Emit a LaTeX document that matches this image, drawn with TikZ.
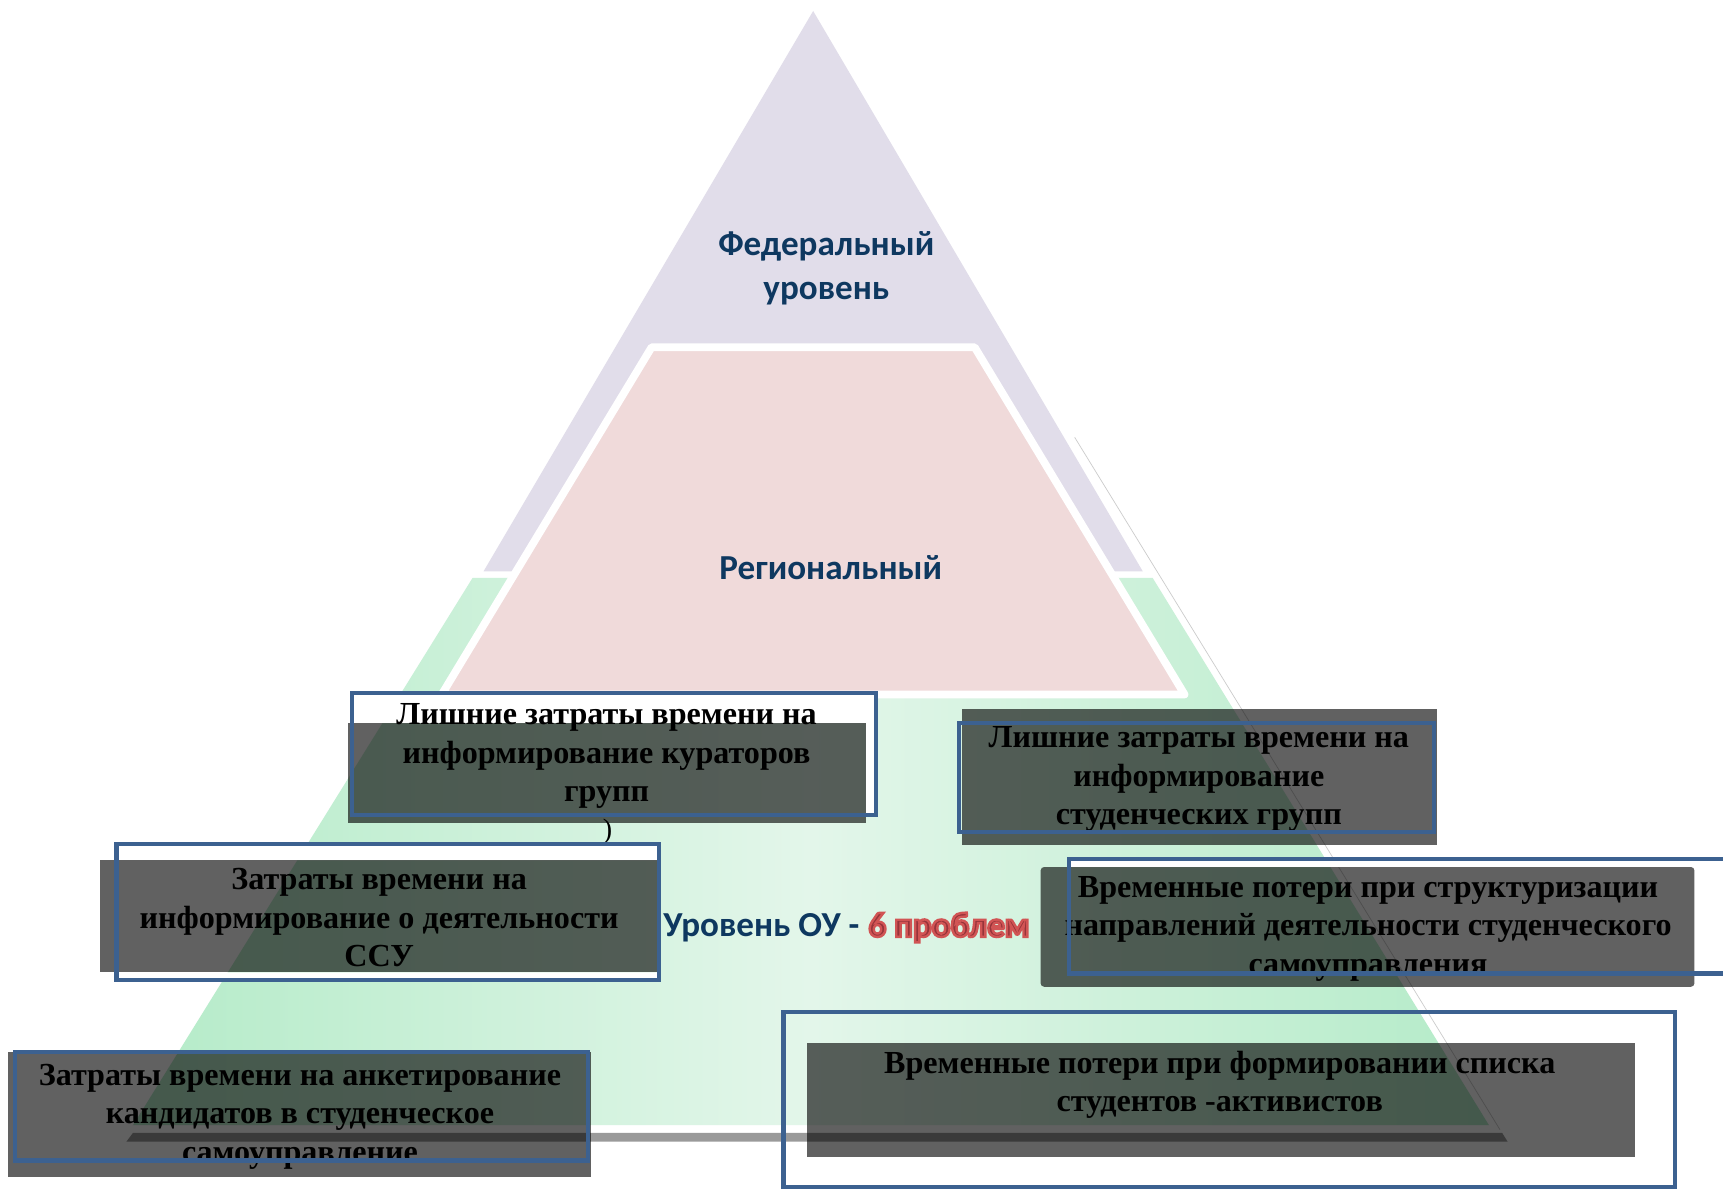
\documentclass[tikz,border=0pt]{standalone}
\usepackage{fontspec}
\setmainfont{Liberation Serif}
\newfontfamily\calib{Carlito}
\usetikzlibrary{calc}
\definecolor{purplefill}{HTML}{E1DDEA}
\definecolor{pinkfill}{HTML}{F0DADA}
\definecolor{greenedge}{HTML}{B4EBC8}
\definecolor{greenmid}{HTML}{E3F6EA}
\definecolor{navy}{HTML}{0E3860}
\definecolor{frameblue}{HTML}{3C6190}
\definecolor{barcolor}{HTML}{9A9A9A}
\definecolor{redcore}{HTML}{96343A}
\newcommand{\outlinedred}[1]{\textcolor{redcore}{\special{pdf:literal direct 2 Tr 0.7 w 0.82 0.33 0.33 RG}#1\special{pdf:literal direct 0 Tr}}}
\tikzset{
  lvl/.style={font=\calib\bfseries\fontsize{10}{12.5}\selectfont, text=navy, align=center, inner sep=0pt},
  probtext/.style={font=\bfseries\fontsize{9.15}{10.95}\selectfont, align=center, inner sep=0pt, text=black},
  shadebox/.style={fill=black, fill opacity=0.62},
  blueframe/.style={draw=frameblue, line width=1.2pt},
}
\begin{document}
\begin{tikzpicture}[x=0.011cm, y=-0.011cm]
\clip (0,0) rectangle (1568,1082);
\fill[white] (0,0) rectangle (1568,1082);

% pyramid layers
\fill[purplefill] (740,10) -- (1040,520) -- (440,520) -- cycle;
\path[left color=greenedge, right color=greenedge, middle color=greenmid]
  (430,526) -- (1049,526) -- (1355,1024) -- (121,1024) -- cycle;
\fill[barcolor] (121,1031) -- (1367,1031) -- (1372,1039) -- (115,1039) -- cycle;
\draw[gray!40, line width=0.2pt] (978,398) -- (1365,1028);
\filldraw[fill=pinkfill, draw=white, line width=2.2pt, line join=round]
  (593,316) -- (887,316) -- (1078,632) -- (402,632) -- cycle;

% level labels
\node[lvl] (fed) at (752,244) {Федеральный\\уровень};
\node[lvl, anchor=base] (reg) at (756,527.5) {Региональный};
\node[lvl, anchor=base west] (ou) at (603,852.5) {Уровень ОУ -};
\coordinate (sixpos) at ($(ou.base east)+(7,0)$);
\node[lvl, anchor=base west] (six) at (sixpos) {\outlinedred{6 проблем}};

% Box A
\begin{scope}
  \clip (320,631) rectangle (797,742);
  \fill[white, even odd rule] (320,631) rectangle (797,742) (317,658) rectangle (788,749);
\end{scope}
\fill[shadebox] (317,658) rectangle (788,749);
\node[probtext] (ta) at (552,688) {Лишние затраты времени на\\информирование кураторов\\групп};
\draw[blueframe] (320,631) rectangle (797,742);
\node[font=\fontsize{8}{9}\selectfont, inner sep=0pt] (paren) at (553,757) {)};

% Box B
\begin{scope}
  \clip (106,768) rectangle (600,892);
  \fill[white, even odd rule] (106,768) rectangle (600,892) (91,783) rectangle (598,885);
\end{scope}
\fill[shadebox] (91,783) rectangle (598,885);
\node[probtext] (tb) at (345,835) {Затраты времени на\\информирование о деятельности\\ССУ};
\draw[blueframe] (106,768) rectangle (600,892);

% Box C
\fill[shadebox] (7,957) rectangle (538,1071);
\node[probtext] (tc) at (273,1016) {Затраты времени на анкетирование\\кандидатов в студенческое\\самоуправление};
\draw[blueframe] (14,957) rectangle (535,1056);

% Box D
\fill[shadebox] (875,645) rectangle (1308,769);
\node[probtext] (td) at (1091,709) {Лишние затраты времени на\\информирование\\студенческих групп};
\draw[blueframe] (873,658) rectangle (1305,757);

% Box E
\begin{scope}
  \clip (973,782) rectangle (1590,886);
  \fill[white, even odd rule] (973,782) rectangle (1590,886) (947,789) rectangle (1542,898);
\end{scope}
\fill[shadebox, rounded corners=1pt] (947,789) rectangle (1542,898);
\node[probtext] (te) at (1245,845) {Временные потери при структуризации\\направлений деятельности студенческого\\самоуправления};
\draw[blueframe] (973,782) rectangle (1590,886);

% Box F
\fill[shadebox] (734,949) rectangle (1488,1053);
\node[probtext] (tf) at (1110,987) {Временные потери при формировании списка\\студентов -активистов};
\draw[blueframe] (713,921) rectangle (1524,1080);
\end{tikzpicture}
\end{document}
